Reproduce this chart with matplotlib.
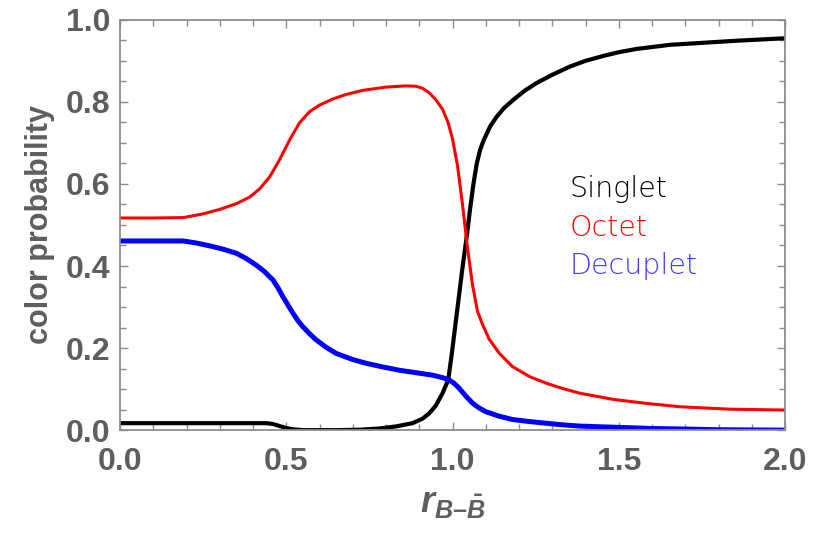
import matplotlib
matplotlib.use("Agg")
import matplotlib.pyplot as plt
from matplotlib.ticker import MultipleLocator

# Colour-state probabilities versus baryon-antibaryon separation
singlet_r = [0.0, 0.44, 0.46, 0.48, 0.50, 0.52, 0.55, 0.65, 0.72, 0.78, 0.83,
             0.88, 0.91, 0.93, 0.95, 0.97, 0.987, 0.998, 1.013, 1.028, 1.044,
             1.053, 1.063, 1.073, 1.083, 1.093, 1.113, 1.133, 1.155, 1.183,
             1.215, 1.253, 1.30, 1.353, 1.40, 1.454, 1.50, 1.554, 1.654, 1.754,
             1.855, 2.0]
singlet_p = [0.017, 0.017, 0.015, 0.010, 0.005, 0.002, 0.0, 0.0, 0.001, 0.004,
             0.009, 0.017, 0.028, 0.041, 0.06, 0.09, 0.122, 0.187, 0.285, 0.383,
             0.48, 0.54, 0.60, 0.65, 0.683, 0.705, 0.74, 0.764, 0.785, 0.805,
             0.826, 0.846, 0.866, 0.886, 0.90, 0.912, 0.921, 0.929, 0.939, 0.944,
             0.949, 0.955]

octet_r = [0.0, 0.10, 0.19, 0.25, 0.30, 0.35, 0.39, 0.42, 0.45, 0.48, 0.51,
           0.54, 0.57, 0.60, 0.64, 0.68, 0.73, 0.80, 0.86, 0.89, 0.91, 0.93,
           0.95, 0.97, 0.987, 1.0, 1.015, 1.03, 1.045, 1.06, 1.075, 1.09, 1.11,
           1.14, 1.18, 1.233, 1.283, 1.333, 1.383, 1.483, 1.585, 1.684, 1.835,
           2.0]
octet_p = [0.517, 0.517, 0.518, 0.527, 0.538, 0.552, 0.568, 0.588, 0.617, 0.659,
           0.707, 0.749, 0.776, 0.792, 0.807, 0.818, 0.828, 0.836, 0.839, 0.838,
           0.833, 0.822, 0.805, 0.782, 0.749, 0.71, 0.645, 0.55, 0.445, 0.355,
           0.29, 0.258, 0.222, 0.188, 0.155, 0.13, 0.114, 0.101, 0.09, 0.075,
           0.065, 0.057, 0.051, 0.049]

decuplet_r = [0.0, 0.19, 0.23, 0.27, 0.31, 0.35, 0.38, 0.41, 0.435, 0.46, 0.475,
              0.49, 0.505, 0.52, 0.535, 0.55, 0.57, 0.59, 0.62, 0.65, 0.70, 0.74,
              0.79, 0.84, 0.89, 0.94, 0.97, 0.99, 1.005, 1.02, 1.04, 1.06, 1.08,
              1.10, 1.14, 1.18, 1.23, 1.28, 1.33, 1.38, 1.45, 1.53, 1.60, 1.68,
              1.80, 2.0]
decuplet_p = [0.461, 0.461, 0.456, 0.449, 0.441, 0.431, 0.418, 0.402, 0.386,
              0.366, 0.347, 0.325, 0.305, 0.285, 0.267, 0.252, 0.235, 0.22, 0.202,
              0.187, 0.172, 0.163, 0.154, 0.146, 0.14, 0.134, 0.128, 0.122, 0.114,
              0.102, 0.083, 0.066, 0.054, 0.045, 0.034, 0.026, 0.021, 0.017,
              0.013, 0.01, 0.008, 0.006, 0.004, 0.003, 0.001, 0.0]

labels = ["Singlet", "Octet", "Decuplet"]

plt.rcParams["mathtext.fontset"] = "custom"
plt.rcParams["mathtext.it"] = "Liberation Sans:italic:bold"
plt.rcParams["mathtext.rm"] = "Liberation Sans:bold"
plt.rcParams["mathtext.bf"] = "Liberation Sans:bold"

label_gray = "#5e5e5e"
frame_gray = "#8c8c8c"

fig = plt.figure(figsize=(8.22, 5.35), dpi=100)
ax = fig.add_axes([0.146, 0.196, 0.809, 0.767])

ax.plot(singlet_r, singlet_p, color="black", lw=3.0, solid_joinstyle="round")
ax.plot(octet_r, octet_p, color="#ff0000", lw=2.2, solid_joinstyle="round")
ax.plot(decuplet_r, decuplet_p, color="#0000ff", lw=3.6, solid_joinstyle="round")

ax.set_xlim(0, 2.0)
ax.set_ylim(0, 1.0)

ax.xaxis.set_major_locator(MultipleLocator(0.5))
ax.xaxis.set_minor_locator(MultipleLocator(0.1))
ax.yaxis.set_major_locator(MultipleLocator(0.2))
ax.yaxis.set_minor_locator(MultipleLocator(0.05))
ax.xaxis.set_major_formatter(plt.FormatStrFormatter("%.1f"))
ax.yaxis.set_major_formatter(plt.FormatStrFormatter("%.1f"))

for side in ax.spines.values():
    side.set_color(frame_gray)
    side.set_linewidth(1.3)

ax.tick_params(which="both", direction="in", top=True, right=True,
               color=frame_gray, width=1.0)
ax.tick_params(which="major", length=6)
ax.tick_params(which="minor", length=4)
ax.tick_params(axis="x", which="major", pad=12)
ax.tick_params(axis="y", which="major", pad=7)

for lab in ax.get_xticklabels() + ax.get_yticklabels():
    lab.set_fontfamily("Liberation Sans")
    lab.set_fontweight("bold")
    lab.set_fontsize(23)
    lab.set_color(label_gray)

ax.set_ylabel("color probability", fontfamily="Liberation Sans",
              fontweight="bold", fontsize=22, color=label_gray, labelpad=8)
ax.set_xlabel(r"$r_{B\text{–}\bar{B}}$", fontsize=26, color=label_gray,
              labelpad=7)

text_colors = ["black", "#ff0000", "#3c3cff"]
text_y = [0.568, 0.473, 0.380]
for lab, c, yy in zip(labels, text_colors, text_y):
    ax.text(1.353, yy, lab, color=c, fontsize=20.5, fontfamily="DejaVu Sans",
            fontweight="light", va="baseline", ha="left")

fig.savefig("out.png", dpi=100)
